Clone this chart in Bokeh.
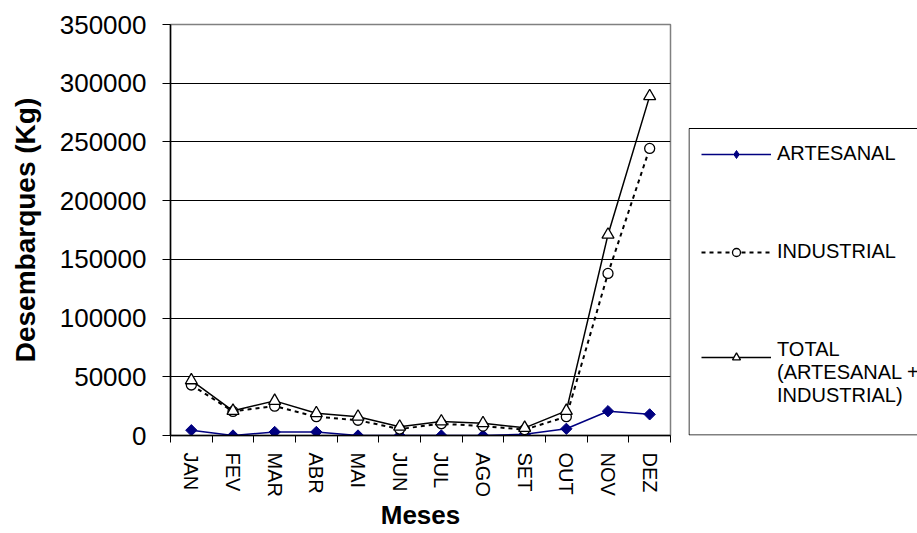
import math
from bokeh.plotting import figure
from bokeh.layouts import row
from bokeh.models import (Range1d, FixedTicker, BasicTickFormatter, Legend, LegendItem, BoxAnnotation)
from bokeh.embed import file_html
from bokeh.resources import INLINE

months = ["JAN", "FEV", "MAR", "ABR", "MAI", "JUN", "JUL", "AGO", "SET", "OUT", "NOV", "DEZ"]
artesanal = [4500, 0, 3000, 3000, 0, 0, 0, 0, 1000, 5700, 20700, 18000]
industrial = [43000, 20500, 25000, 16000, 13000, 5500, 10000, 8000, 5000, 16000, 138000, 244500]
total = [47000, 21000, 29500, 19000, 16000, 7500, 12000, 10500, 6500, 21000, 171000, 289000]
y_ticks = [0, 50000, 100000, 150000, 200000, 250000, 300000, 350000]
series_names = ["ARTESANAL", "INDUSTRIAL", "TOTAL\n(ARTESANAL +\nINDUSTRIAL)"]

xs = [i + 0.5 for i in range(len(months))]
FONT = "Liberation Sans"

ART = dict(line_color="#000080", line_width=1.5)
ART_M = dict(fill_color="#000080", line_color="#000080")
IND = dict(line_color="black", line_width=2, line_dash="4 4")
IND_M = dict(marker="circle", fill_color="white", line_color="black", line_width=1.3)
TOT = dict(line_color="black", line_width=1.5)
TOT_M = dict(marker="triangle", fill_color="white", line_color="black", line_width=1.3)

p = figure(width=688, height=533, output_backend="svg", toolbar_location=None,
           x_range=Range1d(0, len(months)), y_range=Range1d(0, 350000),
           min_border_left=170, min_border_right=18, min_border_top=24, min_border_bottom=98)
p.background_fill_color = "white"
p.border_fill_color = "white"
p.outline_line_color = "#808080"
p.outline_line_width = 1.5

# axes
xa = p.xaxis[0]
xa.ticker = FixedTicker(ticks=xs, minor_ticks=list(range(len(months) + 1)))
xa.major_label_overrides = {x: m for x, m in zip(xs, months)}
xa.major_label_orientation = -math.pi / 2
xa.major_tick_line_color = None
xa.major_tick_out = 7
xa.major_tick_in = 0
xa.minor_tick_out = 7
xa.minor_tick_in = 0
xa.minor_tick_line_color = "black"
xa.axis_line_color = "black"
xa.axis_line_width = 1.5
xa.major_label_text_font = FONT
xa.major_label_text_font_size = "20px"
xa.major_label_text_color = "black"
xa.major_label_standoff = 10
xa.axis_label = "Meses"
xa.axis_label_text_font = FONT
xa.axis_label_text_font_style = "bold"
xa.axis_label_text_font_size = "26px"
xa.axis_label_text_color = "black"
xa.axis_label_standoff = 0

ya = p.yaxis[0]
ya.ticker = FixedTicker(ticks=y_ticks)
ya.formatter = BasicTickFormatter(use_scientific=False)
ya.minor_tick_line_color = None
ya.major_tick_out = 8
ya.major_tick_in = 0
ya.major_tick_line_color = "black"
ya.axis_line_color = "black"
ya.axis_line_width = 1.5
ya.major_label_text_font = FONT
ya.major_label_text_font_size = "26px"
ya.major_label_text_color = "black"
ya.major_label_standoff = 16
ya.axis_label = "Desembarques (Kg)"
ya.axis_label_text_font = FONT
ya.axis_label_text_font_style = "bold"
ya.axis_label_text_font_size = "28px"
ya.axis_label_text_color = "black"
ya.axis_label_standoff = 16

p.xgrid.grid_line_color = None
p.ygrid.ticker = FixedTicker(ticks=y_ticks)
p.ygrid.grid_line_color = "black"
p.ygrid.grid_line_width = 1

# series
p.line(xs, artesanal, **ART)
p.scatter(xs, artesanal, marker="square", angle=math.pi / 4, size=8, **ART_M)
p.line(xs, industrial, **IND)
p.scatter(xs, industrial, size=10, **IND_M)
p.line(xs, total, **TOT)
p.scatter(xs, total, size=12, **TOT_M)

# legend panel: a second figure whose ranges look away from the data, so only the legend shows
# (lets the legend box be cut by the window edge, as in the reference)
q = figure(width=229, height=533, output_backend="svg", toolbar_location=None,
           x_range=Range1d(1000, 1001), y_range=Range1d(-1e9, -1e9 + 1),
           x_axis_location=None, y_axis_location=None,
           min_border_left=0, min_border_right=0, min_border_top=24, min_border_bottom=98)
q.grid.visible = False
q.outline_line_color = None
q.background_fill_color = "white"
q.border_fill_color = "white"

box = BoxAnnotation(left=0.5, right=400, bottom=0.5, top=307,
                    left_units="screen", right_units="screen", bottom_units="screen", top_units="screen",
                    fill_color="white", fill_alpha=1, line_color="black", line_width=1, line_alpha=1)
q.add_layout(box)

la = [q.line(xs, artesanal, **ART), q.scatter(xs, artesanal, marker="diamond", **ART_M)]
li = [q.line(xs, industrial, **IND), q.scatter(xs, industrial, **IND_M)]
lt = [q.line(xs, total, **TOT), q.scatter(xs, total, **TOT_M)]
ghost = q.line(xs, total, line_alpha=0)

legend = Legend(items=[
    LegendItem(label=series_names[0], renderers=la),
    LegendItem(label=series_names[1], renderers=li),
    LegendItem(label=series_names[2], renderers=[ghost]),
], location=(13, 28))
legend_tot = Legend(items=[LegendItem(label=" ", renderers=lt)], location=(13, 68))

for lg in (legend, legend_tot):
    lg.label_text_font = FONT
    lg.label_text_font_size = "20px"
    lg.label_text_color = "black"
    lg.glyph_width = 70
    lg.glyph_height = 20
    lg.label_standoff = 6
    lg.spacing = 75
    lg.margin = 0
    lg.padding = 0
    lg.border_line_color = None
    lg.background_fill_alpha = 0
q.add_layout(legend, "center")
q.add_layout(legend_tot, "center")

layout = row(p, q)
open("out.html", "w").write(file_html(layout, INLINE))
